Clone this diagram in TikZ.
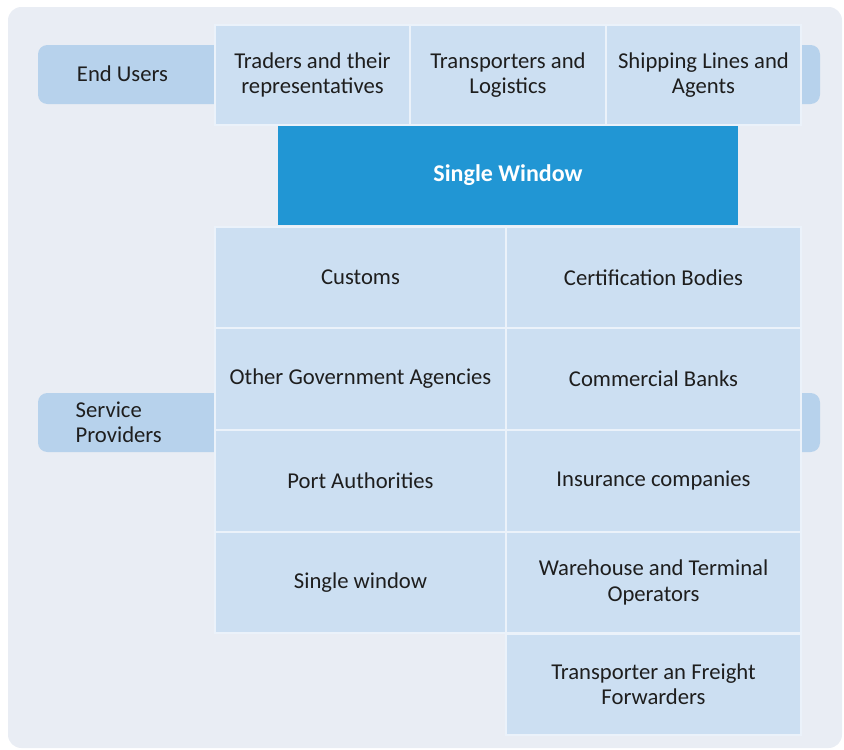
\documentclass[tikz,border=0pt]{standalone}
\usepackage{fontspec}
\setmainfont{Carlito}
\definecolor{bgc}{HTML}{E9EDF4}
\definecolor{cellc}{HTML}{CCDFF2}
\definecolor{tabc}{HTML}{B7D2EC}
\definecolor{swc}{HTML}{2196D4}
\definecolor{txtc}{HTML}{1E1E1E}
\begin{document}
\begin{tikzpicture}[x=0.75pt,y=-0.75pt,
  every node/.style={font=\fontsize{17}{19}\selectfont, text=txtc},
  sz/.style 2 args={minimum width=#1*0.75pt, minimum height=#2*0.75pt},
  cellbox/.style={fill=cellc, draw=white!60!cellc, line width=1.2pt, inner sep=0pt, align=center},
  tabbox/.style={fill=tabc, draw=none, rounded corners=7pt, inner sep=0pt},
  swbox/.style={fill=swc, draw=none, inner sep=0pt, text=white, font=\fontsize{18}{20}\selectfont\bfseries},
  bgbox/.style={fill=bgc, draw=none, rounded corners=10pt, inner sep=0pt}]
\useasboundingbox (0,0) rectangle (844,750);
\node[bgbox, sz={834}{741}] at (425,377.5) (bg) {};
% tabs
\node[tabbox, sz={192}{59}] at (134,74.5) (eutab) {};
\node[tabbox, sz={35}{59}] at (802.5,74.5) (eutabr) {};
\node[tabbox, sz={192}{59}] at (134,422.5) (sptab) {};
\node[tabbox, sz={35}{59}] at (802.5,422.5) (sptabr) {};
\node at (122.5,74) (eu) {End Users};
\node[align=left, anchor=west] at (71,422) (sp) {Service\\Providers};
% top row
\node[cellbox, sz={195}{100}] at (312.5,75) (t1) {Traders and their\\representatives};
\node[cellbox, sz={196}{100}] at (508,75) (t2) {Transporters and\\Logistics};
\node[cellbox, sz={195}{100}] at (703.5,75) (t3) {Shipping Lines and\\Agents};
% single window
\node[swbox, sz={460}{99}] at (508,175.5) (sw) {Single Window};
% grid
\node[cellbox, sz={291}{101}] at (360.5,277.5) (c11) {Customs};
\node[cellbox, sz={295}{101}] at (653.5,277.5) (c12) {Certification Bodies};
\node[cellbox, sz={291}{102}] at (360.5,379) (c21) {Other Government Agencies};
\node[cellbox, sz={295}{102}] at (653.5,379) (c22) {Commercial Banks};
\node[cellbox, sz={291}{102}] at (360.5,481) (c31) {Port Authorities};
\node[cellbox, sz={295}{102}] at (653.5,481) (c32) {Insurance companies};
\node[cellbox, sz={291}{101}] at (360.5,582.5) (c41) {Single window};
\node[cellbox, sz={295}{101}] at (653.5,582.5) (c42) {Warehouse and Terminal\\Operators};
\node[cellbox, sz={295}{101}] at (653.5,684.5) (c52) {Transporter an Freight\\Forwarders};
\end{tikzpicture}
\end{document}
